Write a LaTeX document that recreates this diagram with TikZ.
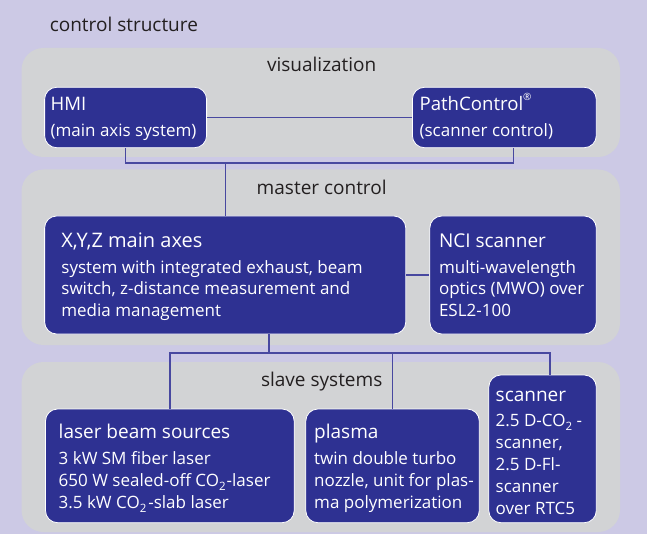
\documentclass[tikz,border=0pt]{standalone}
\usepackage{fontspec}
\setmainfont{Open Sans}
\definecolor{bglav}{RGB}{204,201,229}
\definecolor{panelgray}{RGB}{210,211,213}
\definecolor{boxblue}{RGB}{46,49,146}
\definecolor{linkblue}{RGB}{72,72,160}
\definecolor{headtext}{RGB}{35,31,32}
\newcommand\subtwo{\raisebox{-0.28em}{\fontsize{11.5}{12}\selectfont 2}}
\newcommand\regmark{\raisebox{0.55em}{\fontsize{10}{10}\selectfont ®}}
\tikzset{
  panel/.style={fill=panelgray, rounded corners=22pt, inner sep=0pt, outer sep=0pt},
  bluebox/.style={draw=white, line width=0.8pt, fill=boxblue, rounded corners=12pt, inner sep=0pt},
  conn/.style={draw=linkblue, line width=1.4pt},
  head/.style={text=headtext, font=\fontsize{19}{22}\selectfont, inner sep=0pt},
  btitle/.style={text=white, font=\fontsize{19}{22}\selectfont, inner sep=0pt, anchor=base west},
  hmititle/.style={text=white, font=\fontsize{18.6}{22}\selectfont, inner sep=0pt, anchor=base west},
  btext/.style={text=white, font=\fontsize{17}{21}\selectfont, inner sep=0pt, anchor=base west},
}
\begin{document}
\begin{tikzpicture}[x=1pt,y=-1pt]
\useasboundingbox (0,0) rectangle (647,534);
\fill[bglav] (0,0) rectangle (647,534);

% panels
\node[panel, minimum width=598.5pt, minimum height=109pt] (pvis) at (320.75,102.5) {};
\node[panel, minimum width=598.5pt, minimum height=175.5pt] (pmas) at (320.75,257.25) {};
\node[panel, minimum width=598.5pt, minimum height=170pt] (psla) at (320.75,447) {};

% headings
\node[head, anchor=base west] (tcs) at (49.6,31.7) {control structure};
\node[head, anchor=base] (tvis) at (321.7,71.7) {visualization};
\node[head, anchor=base] (tmas) at (321.7,195) {master control};
\node[head, anchor=base] (tsla) at (321.7,386.7) {slave systems};

% boxes
\node[bluebox, minimum width=162pt, minimum height=60.4pt] (hmi) at (125.6,117.5) {};
\node[bluebox, minimum width=183.9pt, minimum height=60.4pt] (pc) at (504.35,117.5) {};
\node[bluebox, minimum width=361.2pt, minimum height=118pt] (xyz) at (225.2,275) {};
\node[bluebox, minimum width=166.5pt, minimum height=118pt] (nci) at (513.05,275) {};
\node[bluebox, minimum width=248.7pt, minimum height=113.7pt] (laser) at (169.85,465.85) {};
\node[bluebox, minimum width=173.5pt, minimum height=113.7pt] (plasma) at (392.55,465.85) {};
\node[bluebox, minimum width=107.5pt, minimum height=147.7pt] (scan) at (542.55,448.85) {};

% connectors
\coordinate (vbus) at (225.2,163);
\coordinate (pcdrop) at ([xshift=101.6pt]pc.south west);
\coordinate (sbus) at (0,353);
\coordinate (xyzdrop) at ([xshift=224.8pt]xyz.south west);
\coordinate (scandrop) at ([xshift=61.6pt]scan.north west);
\draw[conn] (hmi.east) -- (pc.west);
\draw[conn] (hmi.south) |- (pcdrop |- vbus) -- (pcdrop);
\draw[conn] (vbus) -- (xyz.north);
\draw[conn] (xyz.east) -- (nci.west);
\draw[conn] (xyzdrop) -- (xyzdrop |- sbus);
\draw[conn] (laser.north) |- (scandrop |- sbus) -- (scandrop);
\draw[conn] (plasma.north) -- (plasma.north |- sbus);

% box texts
\node[hmititle] (hmi1) at (50.4,110.7) {HMI};
\node[btext] (hmi2) at (50.4,136.7) {(main axis system)};
\node[hmititle] (pc1) at (419.4,110.7) {PathControl\regmark};
\node[btext] (pc2) at (419.4,136.7) {(scanner control)};

\node[btitle, font=\fontsize{20}{22}\selectfont] (xyz1) at (61.2,248) {X,Y,Z main axes};
\node[btext] (xyz2) at (61.2,273) {system with integrated exhaust, beam};
\node[btext] (xyz3) at (61.2,294.8) {switch, z-distance measurement and};
\node[btext] (xyz4) at (61.2,316.6) {media management};

\node[btitle] (nci1) at (438.8,248) {NCI scanner};
\node[btext] (nci2) at (438.8,273) {multi-wavelength};
\node[btext] (nci3) at (438.8,294.8) {optics (MWO) over};
\node[btext] (nci4) at (438.8,316.6) {ESL2-100};

\node[btitle] (las1) at (58.5,438) {laser beam sources};
\node[btext] (las2) at (58.5,464) {3 kW SM fiber laser};
\node[btext] (las3) at (58.5,486) {650 W sealed-off CO\subtwo\kern1pt-laser};
\node[btext] (las4) at (58.5,508) {3.5 kW CO\subtwo\kern2pt-slab laser};

\node[btitle] (pla1) at (314,438) {plasma};
\node[btext] (pla2) at (314,464) {twin double turbo};
\node[btext] (pla3) at (314,486) {nozzle, unit for plas-};
\node[btext] (pla4) at (314,508) {ma polymerization};

\node[btitle] (sca1) at (495.5,401.7) {scanner};
\node[btext] (sca2) at (495.5,426) {2.5 D-CO\subtwo\ -};
\node[btext] (sca3) at (495.5,448) {scanner,};
\node[btext] (sca4) at (495.5,470) {2.5 D-Fl-};
\node[btext] (sca5) at (495.5,492) {scanner};
\node[btext] (sca6) at (495.5,514) {over RTC5};
\end{tikzpicture}
\end{document}
